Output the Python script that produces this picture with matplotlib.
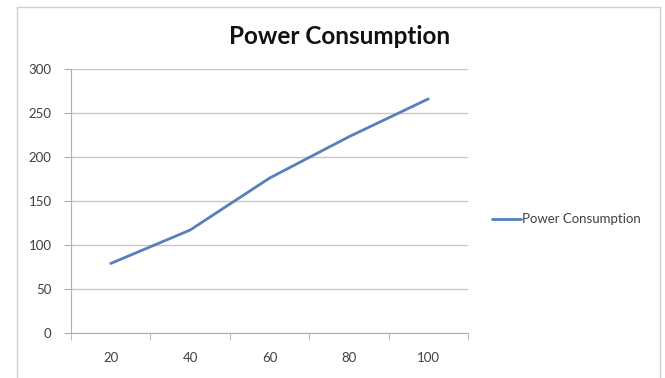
import matplotlib
matplotlib.use("Agg")
from matplotlib import pyplot as plt
from matplotlib.lines import Line2D

# power draw per load setting
load_levels = ["20", "40", "60", "80", "100"]
power_values = [79, 117, 176, 223, 266]
y_ticks = [0, 50, 100, 150, 200, 250, 300]

plt.rcParams["font.family"] = ["Lato", "DejaVu Sans"]

fig = plt.figure(figsize=(6.65, 3.78), dpi=100)
fig.patch.set_facecolor("white")

# chart frame (open at the bottom edge)
frame_kw = dict(color="#d0d0d0", linewidth=1.0, transform=fig.transFigure)
fig.add_artist(Line2D([17 / 665, 17 / 665], [0, 1 - 7 / 378], **frame_kw))
fig.add_artist(Line2D([17 / 665, 660 / 665], [1 - 7 / 378, 1 - 7 / 378], **frame_kw))
fig.add_artist(Line2D([660 / 665, 660 / 665], [0, 1 - 7 / 378], **frame_kw))

ax = fig.add_axes([71 / 665, 1 - 333 / 378, (468 - 71) / 665, (333 - 69) / 378])

x = range(len(load_levels))
ax.plot(x, power_values, color="#5580bb", linewidth=2.0, solid_capstyle="round",
        label="Power Consumption")

ax.set_xlim(-0.5, len(load_levels) - 0.5)
ax.set_ylim(0, 300)
ax.set_yticks(y_ticks)
ax.set_xticks(list(x))
ax.set_xticklabels(load_levels)
ax.set_xticks([i - 0.5 for i in range(len(load_levels) + 1)], minor=True)

ax.grid(axis="y", color="#c8c8c8", linewidth=1.0)
ax.set_axisbelow(True)
for side in ["top", "right"]:
    ax.spines[side].set_visible(False)
for side in ["left", "bottom"]:
    ax.spines[side].set_color("#b0b0b0")

ax.tick_params(axis="y", length=5, color="#b0b0b0", labelsize=9.5, labelcolor="#404040", pad=9)
ax.tick_params(axis="x", which="major", length=0, labelsize=9.5, labelcolor="#404040", pad=14)
ax.tick_params(axis="x", which="minor", length=5, color="#b0b0b0")

fig.text(340 / 665, 1 - 36 / 378, "Power Consumption", ha="center", va="center",
         fontsize=17.5, fontweight="bold", color="#111111")

ax.legend(loc="center left", bbox_to_anchor=(1.03, 0.43), frameon=False,
          fontsize=9.5, handlelength=2.2, handletextpad=0.1, labelcolor="#404040")

fig.savefig("out.png", dpi=100)
